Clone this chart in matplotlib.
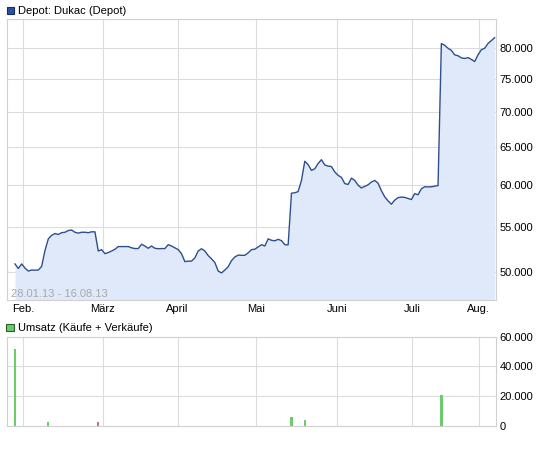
import matplotlib
matplotlib.use('Agg')
import matplotlib.pyplot as plt
from matplotlib.patches import Rectangle
from matplotlib.ticker import FixedLocator, FuncFormatter, NullLocator

plt.rcParams['font.family'] = ['Liberation Sans', 'DejaVu Sans']
plt.rcParams['font.size'] = 8

# depot value per trading day (28.01.13 - 16.08.13)
prices = [50850, 50370, 50850, 50410, 50100, 50200, 50190, 50200, 50590, 52300,
          53600, 54000, 54200, 54100, 54300, 54350, 54550, 54600, 54350, 54250,
          54350, 54350, 54300, 54400, 54400, 52250, 52400, 51960, 52080, 52250,
          52440, 52740, 52740, 52740, 52740, 52600, 52520, 52520, 53000, 52800,
          52550, 52800, 52550, 52500, 52520, 52520, 52950, 52800, 52600, 52400,
          51950, 51100, 51150, 51150, 51500, 52250, 52500, 52250, 51750, 51400,
          51000, 50100, 49900, 50200, 50550, 51200, 51600, 51800, 51780, 51780,
          52050, 52400, 52450, 52700, 52950, 52800, 53600, 53440, 53380, 53550,
          53400, 52950, 52930, 59000, 59050, 59200, 60600, 63100, 62650, 61900,
          62100, 62800, 63300, 62600, 62450, 62400, 61700, 61250, 61000, 60200,
          60090, 60900, 60600, 60000, 59650, 59850, 60050, 60400, 60600, 60250,
          59300, 58550, 58050, 57650, 58150, 58450, 58520, 58480, 58350, 58220,
          58950, 58800, 59550, 59800, 59780, 59800, 59880, 59950, 80800, 80500,
          80000, 79650, 78900, 78750, 78400, 78300, 78450, 78150, 77800, 78900,
          79750, 80000, 80800, 81300, 81800]
days = list(range(len(prices)))

# turnover (buys green, sells red)
vol_days = [0, 10, 25, 83, 87, 128]
vol_values = [51500, 2900, 2900, 6250, 4000, 20800]
vol_colors = ['#6acd6a', '#6acd6a', '#b57c7c', '#6acd6a', '#6acd6a', '#6acd6a']

month_pos = [2.46, 26.3, 48.8, 72.4, 96.6, 119.1, 139.2]
month_labels = ['Feb.', 'März', 'April', 'Mai', 'Juni', 'Juli', 'Aug.']
price_ticks = [50000, 55000, 60000, 65000, 70000, 75000, 80000]
vol_ticks = [0, 20000, 40000, 60000]

W, H = 557, 449
fig = plt.figure(figsize=(W / 100, H / 100), dpi=100)
ax = fig.add_axes([7 / W, (H - 300) / H, 489 / W, 280.7 / H])
ax2 = fig.add_axes([7 / W, (H - 426) / H, 489 / W, 89.3 / H])

grid_c = '#dcdcdc'
fmt = FuncFormatter(lambda v, p: f'{v:,.0f}'.replace(',', '.'))

# price chart
ax.set_yscale('log')
ax.fill_between(days, prices, 40000, color='#e0e9f9', lw=0)
ax.plot(days, prices, color='#2d4f8e', lw=1.0)
ax.set_xlim(-2.4, 144.4)
ax.set_ylim(47140, 85020)
ax.yaxis.set_major_locator(FixedLocator(price_ticks))
ax.yaxis.set_minor_locator(NullLocator())
ax.yaxis.set_major_formatter(fmt)
ax.set_xticks(month_pos)
ax.set_xticklabels(month_labels)
ax.text(0.0076, 0.02, '28.01.13 - 16.08.13', transform=ax.transAxes,
        color='#a8a8a8', va='center', ha='left')

# volume chart
ax2.bar(vol_days, vol_values, width=0.7, color=vol_colors)
ax2.set_xlim(-2.4, 144.4)
ax2.set_ylim(0, 60000)
ax2.set_yticks(vol_ticks)
ax2.yaxis.set_major_formatter(fmt)
ax2.set_xticks(month_pos)
ax2.set_xticklabels([])

for a in (ax, ax2):
    a.set_axisbelow(True)
    a.grid(True, color=grid_c, lw=0.8)
    a.yaxis.tick_right()
    a.tick_params(length=0, labelsize=8, colors='black')
    a.tick_params(axis='y', pad=2.5)
    a.tick_params(axis='x', pad=3)
    for s in a.spines.values():
        s.set_color('#d0d0d0')
        s.set_linewidth(0.8)

# legend boxes above each panel
fig.add_artist(Rectangle((6.5 / W, (H - 14.3) / H), 7.3 / W, 7 / H,
                         transform=fig.transFigure, facecolor='#2a52a6',
                         edgecolor='#1b2b5c', lw=0.8))
fig.text(18.5 / W, (H - 10.7) / H, 'Depot: Dukac (Depot)', va='center', ha='left')
fig.add_artist(Rectangle((6.2 / W, (H - 331.3) / H), 7.3 / W, 7 / H,
                         transform=fig.transFigure, facecolor='#6acd6a',
                         edgecolor='#2c5a2c', lw=0.8))
fig.text(18.5 / W, (H - 328) / H, 'Umsatz (Käufe + Verkäufe)', va='center', ha='left')

fig.savefig('out.png', dpi=100)
